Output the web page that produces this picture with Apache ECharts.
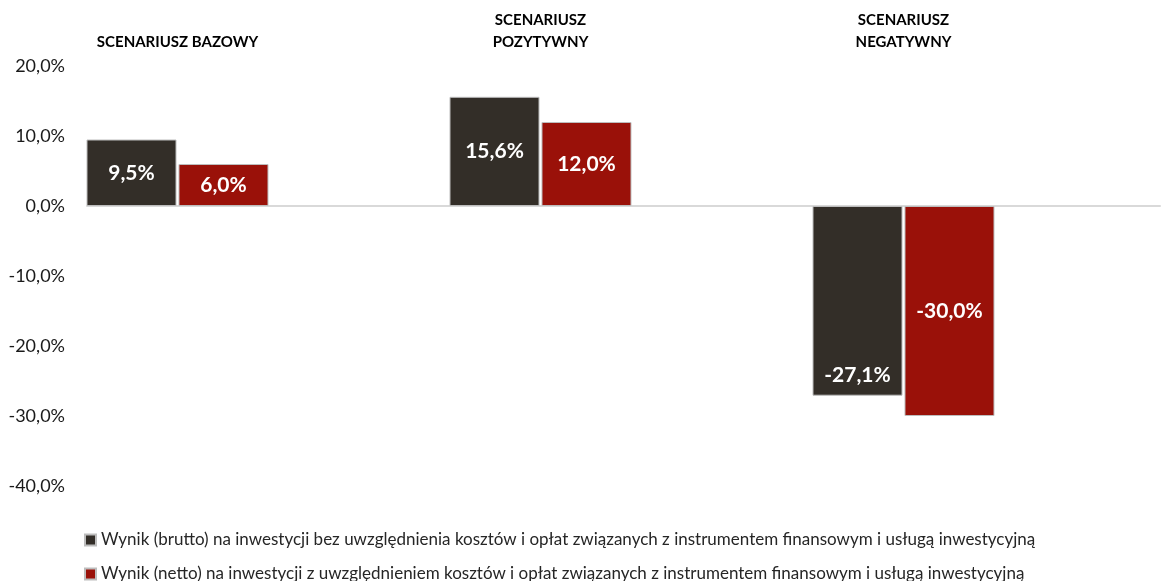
<!DOCTYPE html>
<html>
<head>
<meta charset="utf-8">
<script src="https://cdn.jsdelivr.net/npm/echarts@6/dist/echarts.min.js"></script>
<style>html,body{margin:0;padding:0;background:#fff;}#c{width:1164px;height:581px;}</style>
</head>
<body>
<div id="c"></div>
<script>
const categories = ['SCENARIUSZ BAZOWY', 'SCENARIUSZ\nPOZYTYWNY', 'SCENARIUSZ\nNEGATYWNY'];
const seriesNames = [
  'Wynik (brutto) na inwestycji bez uwzględnienia kosztów i opłat związanych z instrumentem finansowym i usługą inwestycyjną',
  'Wynik (netto) na inwestycji z uwzględnieniem kosztów i opłat związanych z instrumentem finansowym i usługą inwestycyjną'
];
const brutto = [9.5, 15.6, -27.1];
const netto = [6.0, 12.0, -30.0];
const yMin = -40, yMax = 20, yInterval = 10;

const FONT = 'Lato';
const fmtPct = v => v.toFixed(1).replace('.', ',') + '%';
const colors = ['#332e28', '#9a1109'];

function mkData(vals, si) {
  return vals.map((v, i) => {
    const d = { value: v };
    if (si === 0 && v < 0) {
      d.label = { position: 'insideBottom', distance: 10 };
    }
    return d;
  });
}

const chart = echarts.init(document.getElementById('c'), null, { renderer: 'canvas' });
chart.setOption({
  animation: false,
  backgroundColor: '#fff',
  textStyle: { fontFamily: FONT },
  grid: [
    { left: -4, width: 1089, top: 66, bottom: 95, outerBoundsMode: 'none', containLabel: false },
    { left: 87, right: 4, top: 66, bottom: 95, outerBoundsMode: 'none', containLabel: false }
  ],
  legend: {
    orient: 'vertical',
    left: 84,
    top: 530,
    height: 120,
    padding: 0,
    itemWidth: 11,
    itemHeight: 11,
    itemGap: 14,
    icon: 'rect',
    textStyle: { fontFamily: FONT, fontSize: 17, lineHeight: 20, color: '#262626' },
    data: seriesNames
  },
  xAxis: [
    {
      type: 'category', gridIndex: 0, position: 'top', data: categories,
      axisLine: { show: false }, axisTick: { show: false },
      axisLabel: { fontFamily: FONT, fontWeight: 'bold', fontSize: 15, color: '#000', lineHeight: 22, margin: 13 }
    },
    {
      type: 'category', gridIndex: 1, data: [''],
      axisLine: { show: true, onZero: true, lineStyle: { color: '#d9d9d9', width: 2 } },
      axisTick: { show: false }, axisLabel: { show: false }
    }
  ],
  yAxis: [
    {
      type: 'value', gridIndex: 0, min: yMin, max: yMax, interval: yInterval,
      show: false, splitLine: { show: false }
    },
    {
      type: 'value', gridIndex: 1, min: yMin, max: yMax, interval: yInterval,
      axisLine: { show: false }, axisTick: { show: false }, splitLine: { show: false },
      axisLabel: { fontFamily: FONT, fontSize: 18, color: '#1a1a1a', margin: 22, formatter: fmtPct }
    }
  ],
  series: [
    {
      name: seriesNames[0], type: 'bar', xAxisIndex: 0, yAxisIndex: 0,
      data: mkData(brutto, 0), barWidth: 90, barGap: '2.2%',
      itemStyle: { color: colors[0], borderColor: '#bdbdbd', borderWidth: 1 },
      label: { show: true, position: 'inside', color: '#fff', fontFamily: FONT, fontWeight: 'bold', fontSize: 21,
        formatter: p => fmtPct(p.value) }
    },
    {
      name: seriesNames[1], type: 'bar', xAxisIndex: 0, yAxisIndex: 0,
      data: mkData(netto, 1), barWidth: 90, barGap: '2.2%',
      itemStyle: { color: colors[1], borderColor: '#bdbdbd', borderWidth: 1 },
      label: { show: true, position: 'inside', color: '#fff', fontFamily: FONT, fontWeight: 'bold', fontSize: 21,
        formatter: p => fmtPct(p.value) }
    }
  ]
});
</script>
</body>
</html>
